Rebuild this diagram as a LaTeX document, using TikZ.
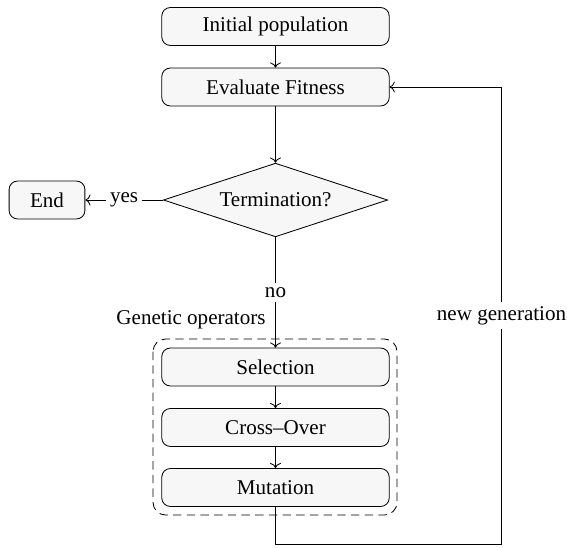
\documentclass[tikz,border=0pt]{standalone}
\usepackage{fontspec}
\setmainfont{Liberation Serif}
\usetikzlibrary{shapes.geometric,arrows.meta}
\begin{document}
\begin{tikzpicture}[x=0.475pt,y=-0.475pt,
  font=\fontsize{10}{12}\selectfont,
  procbox/.style={draw, rounded corners=4pt, fill=black!3,
    minimum width=108pt, minimum height=18pt, inner sep=2pt},
  endbox/.style={draw, rounded corners=4pt, fill=black!3,
    minimum width=36pt, minimum height=18pt, inner sep=2pt},
  decision/.style={draw, diamond, aspect=3, fill=black!3, inner sep=3pt,
    minimum width=106.5pt, minimum height=35pt},
  flow/.style={->},
  groupframe/.style={draw, dash pattern=on 4pt off 2.5pt, rounded corners=6pt},
  edgelabel/.style={fill=white, inner sep=2pt}]
  \useasboundingbox (0,0) rectangle (567,547);

  % main column
  \node[procbox] (init) at (275.5,26.5) {Initial population};
  \node[procbox] (eval) at (275.5,87) {Evaluate Fitness};
  \node[decision] (term) at (275.5,200) {Termination?};
  \node[endbox] (end) at (47,200) {End};

  % genetic operators group
  \node[procbox] (sel) at (275.5,367) {Selection};
  \node[procbox] (cross) at (275.5,427.5) {Cross--Over};
  \node[procbox] (mut) at (275.5,487.5) {Mutation};
  \draw[groupframe] (153,339) rectangle (397,515);
  \node (ops) at (191,320) {Genetic operators};

  \coordinate (loopA) at (275.5,544);
  \coordinate (loopB) at (501.5,544);
  \coordinate (loopC) at (501.5,87);

  % connectors
  \draw[flow] (init) -- (eval);
  \draw[flow] (eval) -- (term);
  \draw[flow] (term.west) -- node[edgelabel] {yes} (end.east);
  \draw[flow] (term.south) -- node[edgelabel] {no} (sel.north);
  \draw[flow] (sel) -- (cross);
  \draw[flow] (cross) -- (mut);
  \draw (mut.south) -- (loopA) -- (loopB);
  \draw[flow] (loopB) -- node[edgelabel] {new generation} (loopC) -- (eval.east);
\end{tikzpicture}
\end{document}
